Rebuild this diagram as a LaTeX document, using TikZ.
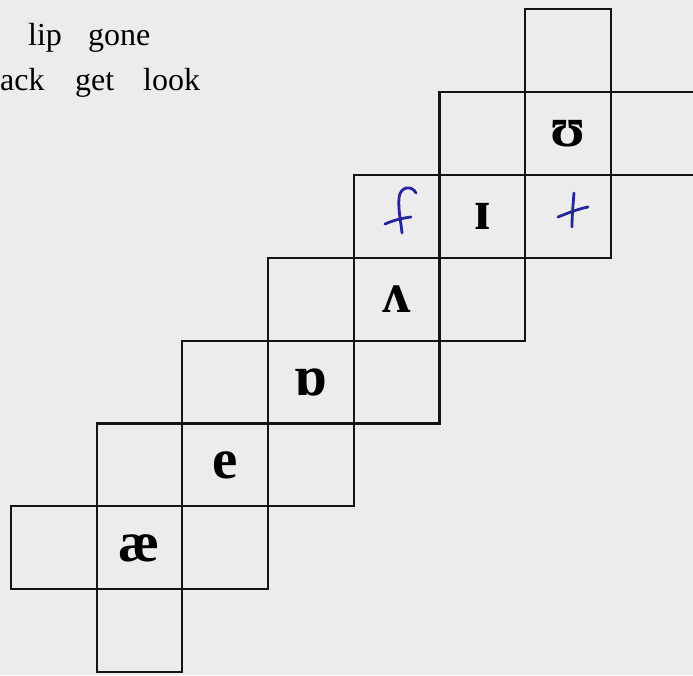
\documentclass[tikz,border=0pt]{standalone}
\usepackage{fontspec}
\setmainfont{Liberation Serif}
\definecolor{ink}{RGB}{38,38,155}
\definecolor{paper}{RGB}{236,236,236}
\definecolor{gridline}{RGB}{20,20,20}
\newcommand{\gcell}[4]{\node[cellbox] (#1) at ({11+85.7*(#2+0.5)},{9+82.9*(#3+0.5)}) {#4};}
\tikzset{
  cellbox/.style={draw=gridline, line width=2.1pt, minimum width=85.7pt, minimum height=82.9pt,
    inner sep=0pt, font=\fontsize{57}{57}\selectfont\bfseries, text=black},
  word/.style={anchor=base west, inner sep=0pt, font=\fontsize{32}{32}\selectfont, text=black},
  hand/.style={draw=ink, line width=2.8pt, line cap=round, line join=round}
}
\begin{document}
\begin{tikzpicture}[x=1pt,y=-1pt]
\useasboundingbox (0,0) rectangle (693,675);
\fill[paper] (0,0) rectangle (693,675);
% words
\node[word] (w1) at (28,45) {lip};
\node[word] (w2) at (88,45) {gone};
\node[word] (w3) at (0,90) {ack};
\node[word] (w4) at (75,90) {get};
\node[word] (w5) at (143,90) {look};
% grid cells
\gcell{c60}{6}{0}{}
\gcell{c51}{5}{1}{}
\gcell{c61}{6}{1}{ʊ}
\gcell{c71}{7}{1}{}
\gcell{c42}{4}{2}{}
\gcell{c52}{5}{2}{ɪ}
\gcell{c62}{6}{2}{}
\gcell{c33}{3}{3}{}
\gcell{c43}{4}{3}{ʌ}
\gcell{c53}{5}{3}{}
\gcell{c24}{2}{4}{}
\gcell{c34}{3}{4}{ɒ}
\gcell{c44}{4}{4}{}
\gcell{c15}{1}{5}{}
\gcell{c25}{2}{5}{e}
\gcell{c35}{3}{5}{}
\gcell{c06}{0}{6}{}
\gcell{c16}{1}{6}{æ}
\gcell{c26}{2}{6}{}
\gcell{c17}{1}{7}{}
% handwritten f
\draw[hand] (416,193) .. controls (412,185) and (400,186) .. (399,198)
  .. controls (398,210) and (401,222) .. (402,233);
\draw[hand] (385,224) .. controls (394,220) and (403,218) .. (411,217);
% handwritten +
\draw[hand] (558,217) .. controls (568,213) and (578,209) .. (588,207);
\draw[hand] (574,193) .. controls (573,205) and (572,216) .. (572,227);
\end{tikzpicture}
\end{document}
